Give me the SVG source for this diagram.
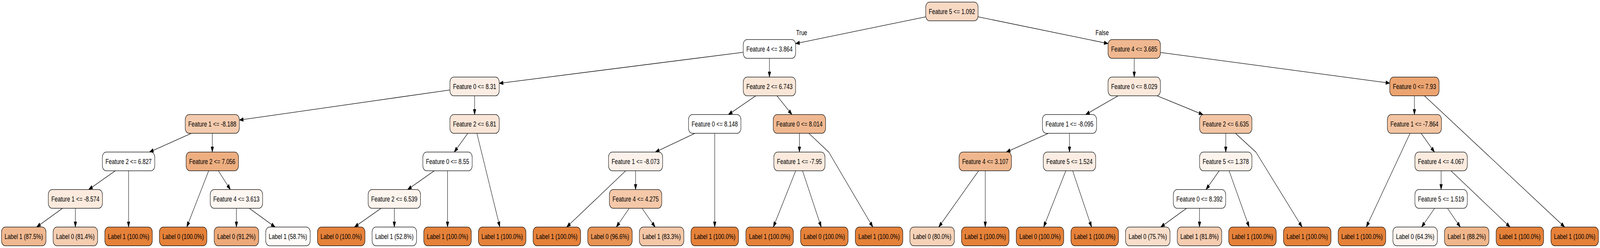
<svg xmlns="http://www.w3.org/2000/svg" width="5498" height="635" viewBox="0 0 5498 635" preserveAspectRatio="none">
<style>
:root{width:100vw;height:100vh}
.n rect{stroke:#000;stroke-width:1.33}
.n text,.el{font-family:"Liberation Sans",Arial,Helvetica,sans-serif;font-size:18.67px;fill:#000;text-anchor:middle}
#edges line,#edges path{stroke:#000;stroke-width:1.33;fill:none;marker-end:url(#ah)}
</style>
<defs>
<marker id="ah" markerWidth="16" markerHeight="12" refX="13.33" refY="4.67" orient="auto" markerUnits="userSpaceOnUse" overflow="visible">
<path d="M0,0 L13.33,4.67 L0,9.33 z" fill="#000" stroke="#000" stroke-width="1"/>
</marker>
</defs>
<rect width="5498" height="635" fill="#fff"/>
<g id="edges">
<line x1="3181" y1="43.11" x2="2734" y2="111.55"/>
<line x1="3361" y1="43.12" x2="3807.5" y2="111.54"/>
<line x1="2554" y1="133.86" x2="1715.55" y2="213.3"/>
<line x1="2644" y1="149.33" x2="2644" y2="197.33"/>
<line x1="3897.5" y1="149.33" x2="3897.5" y2="197.33"/>
<line x1="3987.5" y1="134.3" x2="4775.55" y2="212.88"/>
<line x1="1546.05" y1="230.36" x2="822.5" y2="307.42"/>
<line x1="1630.8" y1="245.33" x2="1630.8" y2="293.33"/>
<line x1="2597" y1="245.33" x2="2503" y2="293.33"/>
<line x1="2669.75" y1="245.33" x2="2721.25" y2="293.33"/>
<line x1="3841.87" y1="245.33" x2="3730.63" y2="293.33"/>
<line x1="3976.13" y1="245.33" x2="4133.37" y2="293.33"/>
<line x1="4860.3" y1="245.33" x2="4860.3" y2="293.33"/>
<line x1="4894.72" y1="245.33" x2="5376.58" y2="581.33"/>
<line x1="657.57" y1="341.33" x2="513.73" y2="389.33"/>
<line x1="729.5" y1="341.33" x2="729.5" y2="389.33"/>
<line x1="1607.55" y1="341.33" x2="1561.05" y2="389.33"/>
<line x1="1638.7" y1="341.33" x2="1717.7" y2="581.33"/>
<line x1="2388" y1="341.33" x2="2252" y2="389.33"/>
<line x1="2456" y1="341.33" x2="2456" y2="581.33"/>
<line x1="2747" y1="341.33" x2="2747" y2="389.33"/>
<path d="M2779.2,341.33 L2847.9,389.6 L2999.3,581.33" stroke-linejoin="round"/>
<line x1="3602.65" y1="341.33" x2="3457.95" y2="389.33"/>
<line x1="3675" y1="341.33" x2="3675" y2="389.33"/>
<line x1="4212" y1="341.33" x2="4212" y2="389.33"/>
<path d="M4245.4,341.33 L4315.8,389.6 L4474.3,581.33" stroke-linejoin="round"/>
<line x1="4845.27" y1="341.33" x2="4695.03" y2="581.33"/>
<line x1="4883.23" y1="341.33" x2="4929.07" y2="389.33"/>
<line x1="396.1" y1="437.33" x2="304.7" y2="485.33"/>
<line x1="441.8" y1="437.33" x2="441.8" y2="581.33"/>
<line x1="716.97" y1="437.33" x2="641.83" y2="581.33"/>
<line x1="750.23" y1="437.33" x2="791.67" y2="485.33"/>
<line x1="1492.1" y1="437.33" x2="1400.7" y2="485.33"/>
<line x1="1537.8" y1="437.33" x2="1537.8" y2="581.33"/>
<line x1="2150.19" y1="437.33" x2="1947.31" y2="581.33"/>
<line x1="2184" y1="437.33" x2="2184" y2="485.33"/>
<line x1="2734.2" y1="437.33" x2="2657.4" y2="581.33"/>
<line x1="2757.7" y1="437.33" x2="2821.9" y2="581.33"/>
<line x1="3362.77" y1="437.33" x2="3225.83" y2="581.33"/>
<line x1="3385.6" y1="437.33" x2="3385.6" y2="581.33"/>
<line x1="3662.32" y1="437.33" x2="3586.28" y2="581.33"/>
<line x1="3685.84" y1="437.33" x2="3750.86" y2="581.33"/>
<line x1="4189.45" y1="437.33" x2="4144.35" y2="485.33"/>
<line x1="4223.48" y1="437.33" x2="4292.33" y2="581.33"/>
<line x1="4952" y1="437.33" x2="4952" y2="485.33"/>
<line x1="4985.84" y1="437.33" x2="5188.86" y2="581.33"/>
<line x1="214.65" y1="533.33" x2="125.95" y2="581.33"/>
<line x1="259" y1="533.33" x2="259" y2="581.33"/>
<line x1="812.4" y1="533.33" x2="812.4" y2="581.33"/>
<line x1="856.68" y1="533.33" x2="945.22" y2="581.33"/>
<line x1="1309.37" y1="533.33" x2="1218.13" y2="581.33"/>
<line x1="1355" y1="533.33" x2="1355" y2="581.33"/>
<line x1="2162" y1="533.33" x2="2118" y2="581.33"/>
<line x1="2206.38" y1="533.33" x2="2251.13" y2="581.33"/>
<line x1="4077.35" y1="533.33" x2="3988.45" y2="581.33"/>
<line x1="4121.8" y1="533.33" x2="4121.8" y2="581.33"/>
<line x1="4929.7" y1="533.33" x2="4885.1" y2="581.33"/>
<line x1="4974" y1="533.33" x2="5018" y2="581.33"/>
<text class="el" x="2754.8" y="90.5">True</text>
<text class="el" x="3787.2" y="90.5">False</text>
</g>
<g id="node-root" class="n"><rect x="3181" y="5.33" width="180" height="48" rx="13" fill="#f7d9c4"/><text x="3271" y="35.83">Feature 5 &lt;= 1.092</text></g>
<g id="node-A" class="n"><rect x="2554" y="101.33" width="180" height="48" rx="13" fill="#ffffff"/><text x="2644" y="131.83">Feature 4 &lt;= 3.864</text></g>
<g id="node-B" class="n"><rect x="3807.5" y="101.33" width="180" height="48" rx="13" fill="#f0b890"/><text x="3897.5" y="131.83">Feature 4 &lt;= 3.685</text></g>
<g id="node-C" class="n"><rect x="1546.05" y="197.33" width="169.5" height="48" rx="13" fill="#fbede3"/><text x="1630.8" y="227.83">Feature 0 &lt;= 8.31</text></g>
<g id="node-D" class="n"><rect x="2554" y="197.33" width="180" height="48" rx="13" fill="#fae6d7"/><text x="2644" y="227.83">Feature 2 &lt;= 6.743</text></g>
<g id="node-E" class="n"><rect x="3807.5" y="197.33" width="180" height="48" rx="13" fill="#fbe9dc"/><text x="3897.5" y="227.83">Feature 0 &lt;= 8.029</text></g>
<g id="node-G" class="n"><rect x="4775.55" y="197.33" width="169.5" height="48" rx="13" fill="#eca470"/><text x="4860.3" y="227.83">Feature 0 &lt;= 7.93</text></g>
<g id="node-H" class="n"><rect x="636.5" y="293.33" width="186" height="48" rx="13" fill="#f4cbae"/><text x="729.5" y="323.83">Feature 1 &lt;= -8.188</text></g>
<g id="node-I" class="n"><rect x="1546.05" y="293.33" width="169.5" height="48" rx="13" fill="#fae6d7"/><text x="1630.8" y="323.83">Feature 2 &lt;= 6.81</text></g>
<g id="node-J" class="n"><rect x="2366" y="293.33" width="180" height="48" rx="13" fill="#ffffff"/><text x="2456" y="323.83">Feature 0 &lt;= 8.148</text></g>
<g id="node-K" class="n"><rect x="2657" y="293.33" width="180" height="48" rx="13" fill="#f0b890"/><text x="2747" y="323.83">Feature 0 &lt;= 8.014</text></g>
<g id="node-M" class="n"><rect x="3582" y="293.33" width="186" height="48" rx="13" fill="#ffffff"/><text x="3675" y="323.83">Feature 1 &lt;= -8.095</text></g>
<g id="node-N" class="n"><rect x="4122" y="293.33" width="180" height="48" rx="13" fill="#f3c5a4"/><text x="4212" y="323.83">Feature 2 &lt;= 6.635</text></g>
<g id="node-O" class="n"><rect x="4767.3" y="293.33" width="186" height="48" rx="13" fill="#f3c4a2"/><text x="4860.3" y="323.83">Feature 1 &lt;= -7.864</text></g>
<g id="node-P" class="n"><rect x="351.8" y="389.33" width="180" height="48" rx="13" fill="#ffffff"/><text x="441.8" y="419.83">Feature 2 &lt;= 6.827</text></g>
<g id="node-Q" class="n"><rect x="639.5" y="389.33" width="180" height="48" rx="13" fill="#eeae80"/><text x="729.5" y="419.83">Feature 2 &lt;= 7.056</text></g>
<g id="node-R" class="n"><rect x="1453.05" y="389.33" width="169.5" height="48" rx="13" fill="#ffffff"/><text x="1537.8" y="419.83">Feature 0 &lt;= 8.55</text></g>
<g id="node-S" class="n"><rect x="2091" y="389.33" width="186" height="48" rx="13" fill="#fcf2eb"/><text x="2184" y="419.83">Feature 1 &lt;= -8.073</text></g>
<g id="node-T" class="n"><rect x="2659.15" y="389.33" width="175.7" height="48" rx="13" fill="#fbeadd"/><text x="2747" y="419.83">Feature 1 &lt;= -7.95</text></g>
<g id="node-U" class="n"><rect x="3295.6" y="389.33" width="180" height="48" rx="13" fill="#f0b78e"/><text x="3385.6" y="419.83">Feature 4 &lt;= 3.107</text></g>
<g id="node-V" class="n"><rect x="3585" y="389.33" width="180" height="48" rx="13" fill="#fbede3"/><text x="3675" y="419.83">Feature 5 &lt;= 1.524</text></g>
<g id="node-W" class="n"><rect x="4122" y="389.33" width="180" height="48" rx="13" fill="#fdf4ed"/><text x="4212" y="419.83">Feature 5 &lt;= 1.378</text></g>
<g id="node-X" class="n"><rect x="4862" y="389.33" width="180" height="48" rx="13" fill="#fbebdf"/><text x="4952" y="419.83">Feature 4 &lt;= 4.067</text></g>
<g id="node-P5a" class="n"><rect x="166" y="485.33" width="186" height="48" rx="13" fill="#fbeadd"/><text x="259" y="515.83">Feature 1 &lt;= -8.574</text></g>
<g id="node-P5b" class="n"><rect x="722.4" y="485.33" width="180" height="48" rx="13" fill="#fdf6f1"/><text x="812.4" y="515.83">Feature 4 &lt;= 3.613</text></g>
<g id="node-P5c" class="n"><rect x="1265" y="485.33" width="180" height="48" rx="13" fill="#fdf4ed"/><text x="1355" y="515.83">Feature 2 &lt;= 6.539</text></g>
<g id="node-P5d" class="n"><rect x="2094" y="485.33" width="180" height="48" rx="13" fill="#f4c8a8"/><text x="2184" y="515.83">Feature 4 &lt;= 4.275</text></g>
<g id="node-P5e" class="n"><rect x="4031.8" y="485.33" width="180" height="48" rx="13" fill="#fffdfb"/><text x="4121.8" y="515.83">Feature 0 &lt;= 8.392</text></g>
<g id="node-P5f" class="n"><rect x="4862" y="485.33" width="180" height="48" rx="13" fill="#fffdfb"/><text x="4952" y="515.83">Feature 5 &lt;= 1.519</text></g>
<g id="leaf-1" class="n"><rect x="5.15" y="581.33" width="152.9" height="48" rx="13" fill="#f0b890"/><text x="81.6" y="611.83">Label 1 (87.5%)</text></g>
<g id="leaf-2" class="n"><rect x="182.55" y="581.33" width="152.9" height="48" rx="13" fill="#f5cdb1"/><text x="259" y="611.83">Label 0 (81.4%)</text></g>
<g id="leaf-3" class="n"><rect x="360.15" y="581.33" width="163.3" height="48" rx="13" fill="#e58139"/><text x="441.8" y="611.83">Label 1 (100.0%)</text></g>
<g id="leaf-4" class="n"><rect x="547.65" y="581.33" width="163.3" height="48" rx="13" fill="#e58139"/><text x="629.3" y="611.83">Label 0 (100.0%)</text></g>
<g id="leaf-5" class="n"><rect x="735.95" y="581.33" width="152.9" height="48" rx="13" fill="#eda979"/><text x="812.4" y="611.83">Label 0 (91.2%)</text></g>
<g id="leaf-6" class="n"><rect x="913.05" y="581.33" width="152.9" height="48" rx="13" fill="#fefbf9"/><text x="989.5" y="611.83">Label 1 (58.7%)</text></g>
<g id="leaf-7" class="n"><rect x="1090.85" y="581.33" width="163.3" height="48" rx="13" fill="#e58139"/><text x="1172.5" y="611.83">Label 0 (100.0%)</text></g>
<g id="leaf-8" class="n"><rect x="1278.55" y="581.33" width="152.9" height="48" rx="13" fill="#fffefe"/><text x="1355" y="611.83">Label 1 (52.8%)</text></g>
<g id="leaf-9" class="n"><rect x="1456.15" y="581.33" width="163.3" height="48" rx="13" fill="#e58139"/><text x="1537.8" y="611.83">Label 1 (100.0%)</text></g>
<g id="leaf-10" class="n"><rect x="1643.95" y="581.33" width="163.3" height="48" rx="13" fill="#e58139"/><text x="1725.6" y="611.83">Label 1 (100.0%)</text></g>
<g id="leaf-11" class="n"><rect x="1831.85" y="581.33" width="163.3" height="48" rx="13" fill="#e58139"/><text x="1913.5" y="611.83">Label 1 (100.0%)</text></g>
<g id="leaf-12" class="n"><rect x="2019.55" y="581.33" width="152.9" height="48" rx="13" fill="#e89253"/><text x="2096" y="611.83">Label 0 (96.6%)</text></g>
<g id="leaf-13" class="n"><rect x="2197.05" y="581.33" width="152.9" height="48" rx="13" fill="#f4c7a7"/><text x="2273.5" y="611.83">Label 1 (83.3%)</text></g>
<g id="leaf-14" class="n"><rect x="2374.35" y="581.33" width="163.3" height="48" rx="13" fill="#e58139"/><text x="2456" y="611.83">Label 1 (100.0%)</text></g>
<g id="leaf-15" class="n"><rect x="2562.95" y="581.33" width="163.3" height="48" rx="13" fill="#e58139"/><text x="2644.6" y="611.83">Label 1 (100.0%)</text></g>
<g id="leaf-16" class="n"><rect x="2750.95" y="581.33" width="163.3" height="48" rx="13" fill="#e58139"/><text x="2832.6" y="611.83">Label 0 (100.0%)</text></g>
<g id="leaf-17" class="n"><rect x="2939.05" y="581.33" width="163.3" height="48" rx="13" fill="#e58139"/><text x="3020.7" y="611.83">Label 1 (100.0%)</text></g>
<g id="leaf-18" class="n"><rect x="3126.55" y="581.33" width="152.9" height="48" rx="13" fill="#f6d2b8"/><text x="3203" y="611.83">Label 0 (80.0%)</text></g>
<g id="leaf-19" class="n"><rect x="3303.95" y="581.33" width="163.3" height="48" rx="13" fill="#e58139"/><text x="3385.6" y="611.83">Label 1 (100.0%)</text></g>
<g id="leaf-20" class="n"><rect x="3491.95" y="581.33" width="163.3" height="48" rx="13" fill="#e58139"/><text x="3573.6" y="611.83">Label 0 (100.0%)</text></g>
<g id="leaf-21" class="n"><rect x="3680.05" y="581.33" width="163.3" height="48" rx="13" fill="#e58139"/><text x="3761.7" y="611.83">Label 1 (100.0%)</text></g>
<g id="leaf-22" class="n"><rect x="3867.55" y="581.33" width="152.9" height="48" rx="13" fill="#f8decb"/><text x="3944" y="611.83">Label 0 (75.7%)</text></g>
<g id="leaf-23" class="n"><rect x="4045.35" y="581.33" width="152.9" height="48" rx="13" fill="#f5ccaf"/><text x="4121.8" y="611.83">Label 1 (81.8%)</text></g>
<g id="leaf-24" class="n"><rect x="4222.15" y="581.33" width="163.3" height="48" rx="13" fill="#e58139"/><text x="4303.8" y="611.83">Label 1 (100.0%)</text></g>
<g id="leaf-25" class="n"><rect x="4410.35" y="581.33" width="163.3" height="48" rx="13" fill="#e58139"/><text x="4492" y="611.83">Label 1 (100.0%)</text></g>
<g id="leaf-26" class="n"><rect x="4598.35" y="581.33" width="163.3" height="48" rx="13" fill="#e58139"/><text x="4680" y="611.83">Label 1 (100.0%)</text></g>
<g id="leaf-27" class="n"><rect x="4786.35" y="581.33" width="152.9" height="48" rx="13" fill="#fdf5ef"/><text x="4862.8" y="611.83">Label 0 (64.3%)</text></g>
<g id="leaf-28" class="n"><rect x="4963.55" y="581.33" width="152.9" height="48" rx="13" fill="#f0b68b"/><text x="5040" y="611.83">Label 1 (88.2%)</text></g>
<g id="leaf-29" class="n"><rect x="5141.05" y="581.33" width="163.3" height="48" rx="13" fill="#e58139"/><text x="5222.7" y="611.83">Label 1 (100.0%)</text></g>
<g id="leaf-30" class="n"><rect x="5329.35" y="581.33" width="163.3" height="48" rx="13" fill="#e58139"/><text x="5411" y="611.83">Label 1 (100.0%)</text></g>
</svg>
